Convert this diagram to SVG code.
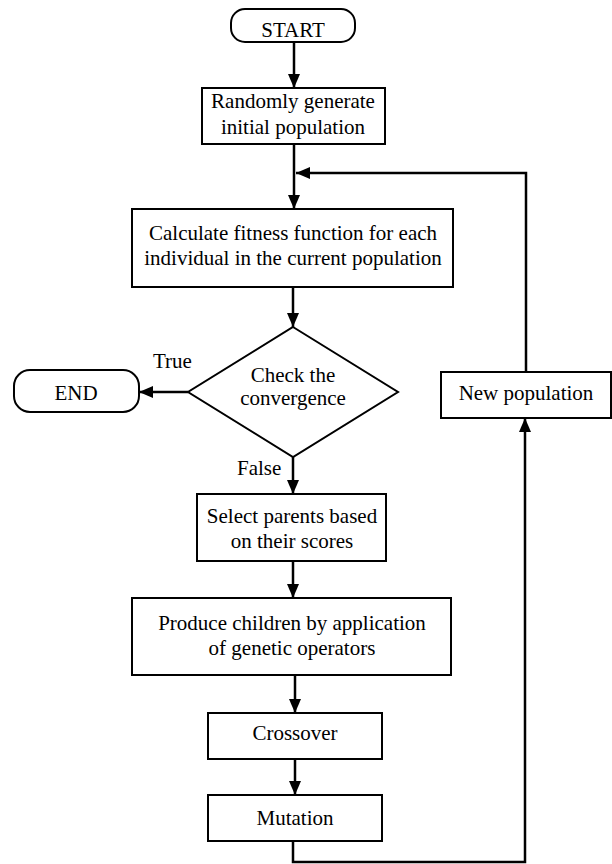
<svg xmlns="http://www.w3.org/2000/svg" width="612" height="864" viewBox="0 0 612 864">
<style>
.box{fill:#fff;stroke:#000;stroke-width:2}
.t{font-family:"Liberation Serif","Times New Roman",serif;font-size:21px;fill:#000;text-anchor:middle}
.lbl{font-family:"Liberation Serif","Times New Roman",serif;font-size:21px;fill:#000}
.c{fill:none;stroke:#000;stroke-width:2.5}
</style>
<defs>
<marker id="ah" viewBox="0 0 14 12" refX="14" refY="6" markerWidth="14" markerHeight="12" orient="auto" markerUnits="userSpaceOnUse">
<path d="M0,0 L14,6 L0,12 z" fill="#000"/>
</marker>
</defs>
<rect width="612" height="864" fill="#fff"/>
<g id="connectors">
<path class="c" d="M294,42 V88" marker-end="url(#ah)"/>
<path class="c" d="M294,144 V209" marker-end="url(#ah)"/>
<path class="c" d="M526,372 V173 H296" marker-end="url(#ah)"/>
<path class="c" d="M293,287 V327" marker-end="url(#ah)"/>
<path class="c" d="M188,392 H139" marker-end="url(#ah)"/>
<path class="c" d="M293,457 V494" marker-end="url(#ah)"/>
<path class="c" d="M293,561 V598" marker-end="url(#ah)"/>
<path class="c" d="M295,675 V713" marker-end="url(#ah)"/>
<path class="c" d="M295,759 V795" marker-end="url(#ah)"/>
<path class="c" d="M293,841 V862 H525 V418" marker-end="url(#ah)"/>
<text class="lbl" x="153" y="368">True</text>
<text class="lbl" x="237" y="475">False</text>
</g>
<g id="start">
<rect class="box" x="231" y="9" width="124" height="33" rx="14"/>
<text class="t" x="293" y="37">START</text>
</g>
<g id="init">
<rect class="box" x="202" y="88" width="183" height="56"/>
<text class="t" x="293" y="108">Randomly generate</text>
<text class="t" x="293" y="134">initial population</text>
</g>
<g id="fitness">
<rect class="box" x="132" y="209" width="321" height="78"/>
<text class="t" x="293" y="240">Calculate fitness function for each</text>
<text class="t" x="293" y="265">individual in the current population</text>
</g>
<g id="check">
<polygon class="box" points="293,327 398,392 293,457 188,392"/>
<text class="t" x="293" y="382">Check the</text>
<text class="t" x="293" y="405">convergence</text>
</g>
<g id="end">
<rect class="box" x="14" y="370" width="125" height="42" rx="16"/>
<text class="t" x="76" y="400">END</text>
</g>
<g id="select">
<rect class="box" x="197" y="494" width="189" height="67"/>
<text class="t" x="292" y="523">Select parents based</text>
<text class="t" x="292" y="548">on their scores</text>
</g>
<g id="produce">
<rect class="box" x="132" y="598" width="319" height="77"/>
<text class="t" x="292" y="630">Produce children by application</text>
<text class="t" x="292" y="655">of genetic operators</text>
</g>
<g id="crossover">
<rect class="box" x="208" y="713" width="174" height="46"/>
<text class="t" x="295" y="740">Crossover</text>
</g>
<g id="mutation">
<rect class="box" x="208" y="795" width="174" height="46"/>
<text class="t" x="295" y="825">Mutation</text>
</g>
<g id="newpop">
<rect class="box" x="441" y="372" width="170" height="46"/>
<text class="t" x="526" y="400">New population</text>
</g>
</svg>
